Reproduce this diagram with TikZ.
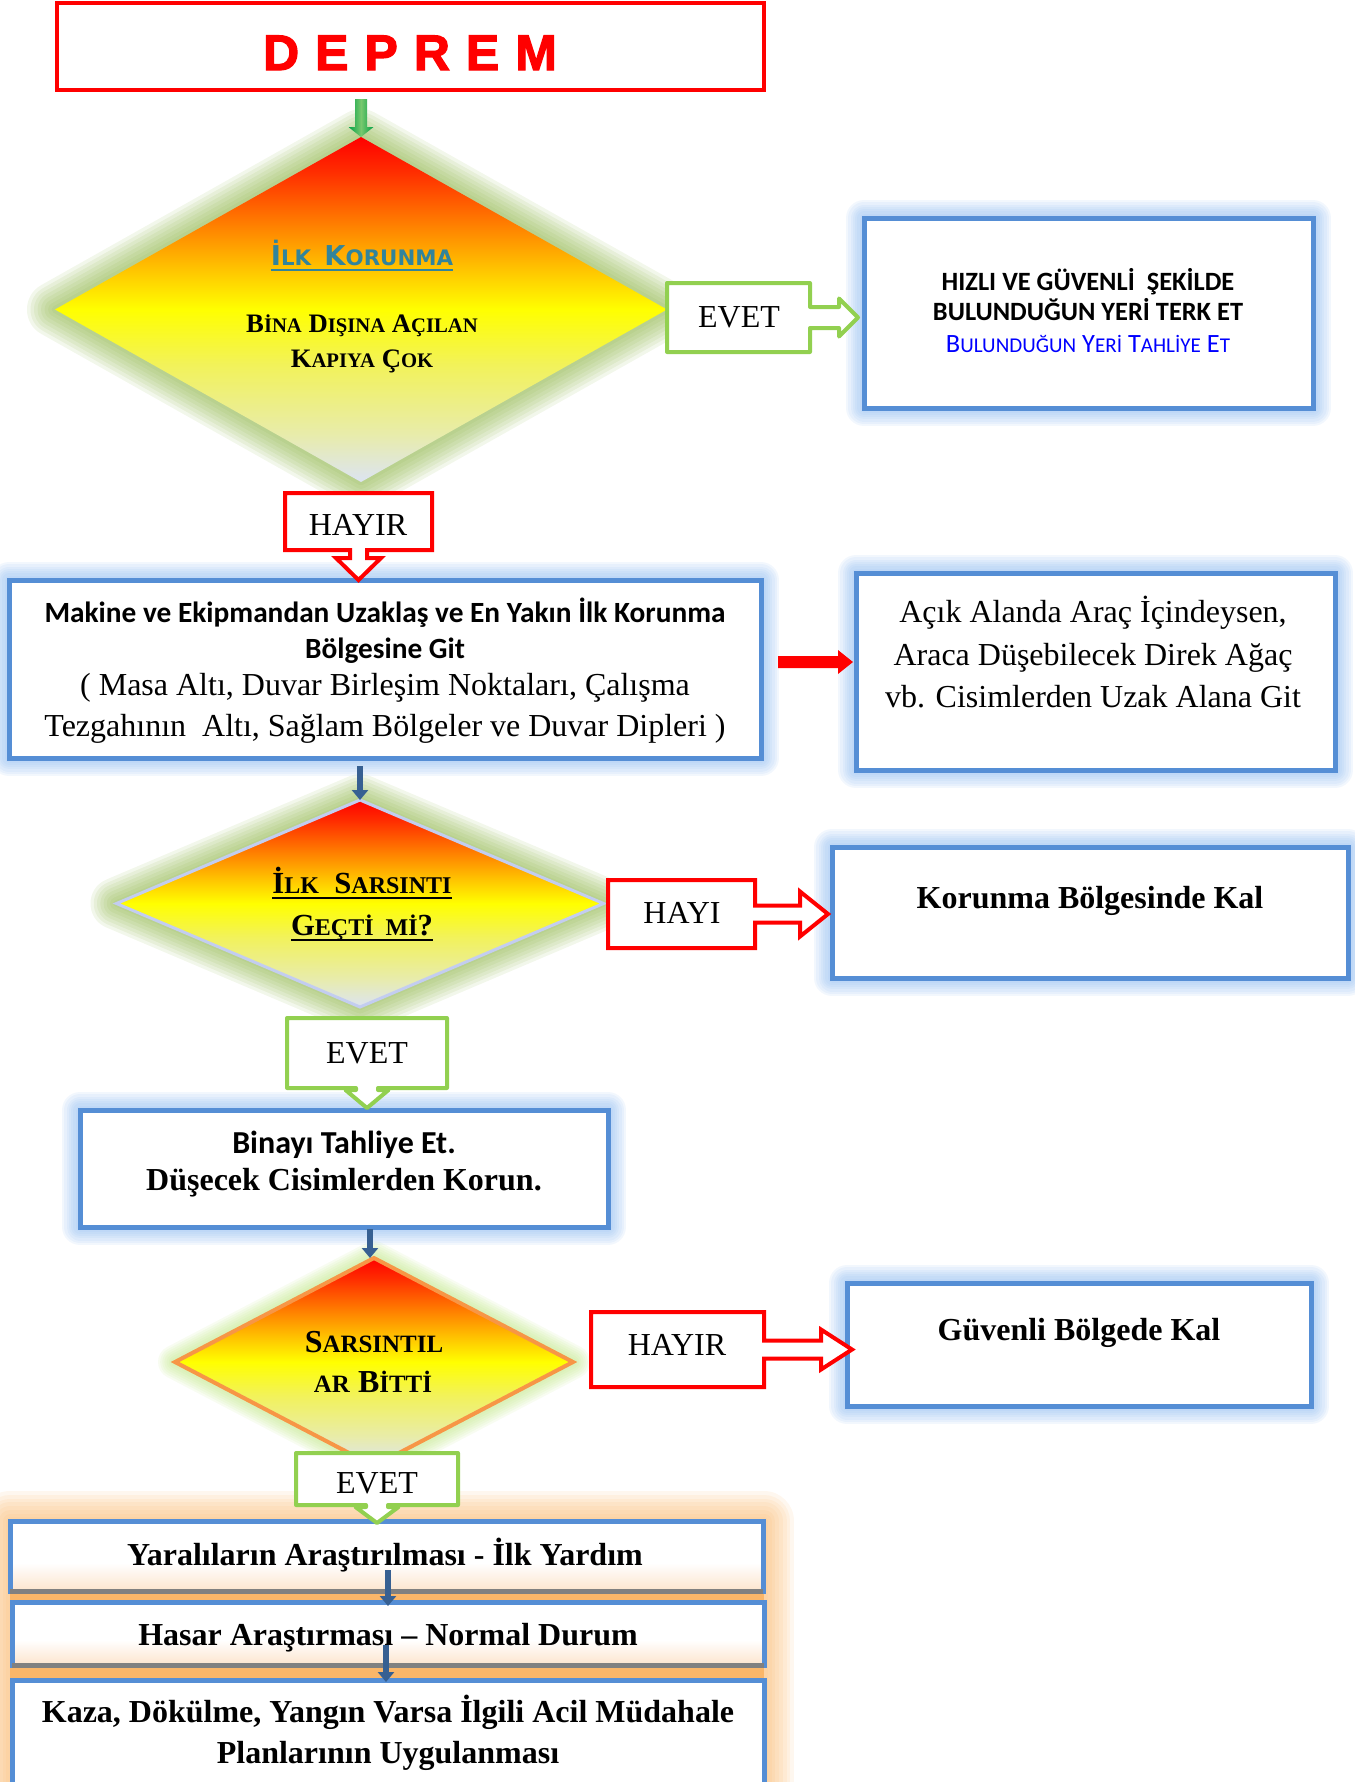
\documentclass[tikz,border=0pt]{standalone}
\usepackage{fontspec}
\setmainfont{Liberation Serif}
\newfontfamily\carl{Carlito}
\newfontfamily\djb{DejaVu Sans}
\newfontfamily\arl{Liberation Sans}[BoldFeatures={FakeBold=2.5}]
\usetikzlibrary{calc,fit,arrows.meta,shapes.geometric}

\definecolor{redb}{RGB}{255,0,0}
\definecolor{greenb}{RGB}{146,208,80}
\definecolor{blueb}{RGB}{85,142,213}
\definecolor{blueglow}{RGB}{140,185,240}
\definecolor{darkarrow}{RGB}{55,96,146}
\definecolor{leafglow}{RGB}{140,180,70}
\definecolor{limeglow}{RGB}{190,230,130}
\definecolor{peach}{RGB}{250,182,105}
\definecolor{boxpeach}{RGB}{252,228,205}
\definecolor{tealt}{RGB}{49,132,155}
\definecolor{linkblue}{RGB}{0,0,255}
\definecolor{diatwo}{RGB}{195,205,240}
\definecolor{diathree}{RGB}{247,150,70}
\definecolor{garrowA}{RGB}{0,160,70}
\definecolor{garrowB}{RGB}{120,200,110}
\definecolor{sPale}{RGB}{220,228,242}
\definecolor{sPaleY}{RGB}{232,236,170}
\definecolor{sMidY}{RGB}{242,242,90}
\definecolor{sYel}{RGB}{255,255,0}
\definecolor{sGold}{RGB}{255,205,0}
\definecolor{sOr}{RGB}{255,120,0}
\definecolor{sRO}{RGB}{255,45,0}
\definecolor{sRed}{RGB}{255,0,0}

% red at the top, yellow in the middle, pale blue-grey at the bottom
\pgfdeclareverticalshading{quake}{100bp}{color(0bp)=(sPale); color(25bp)=(sPale);
  color(32bp)=(sPaleY); color(42bp)=(sMidY); color(50bp)=(sYel); color(55bp)=(sGold);
  color(63bp)=(sOr); color(70bp)=(sRO); color(75bp)=(sRed); color(100bp)=(sRed)}
% white box with a warm tint along its lower edge
\pgfdeclareverticalshading{cream}{100bp}{color(0bp)=(boxpeach); color(25bp)=(boxpeach);
  color(45bp)=(white); color(100bp)=(white)}

\pgfdeclarelayer{glow}
\pgfsetlayers{glow,main}

% soft halo: stacked translucent strokes
\newcommand\halo[3]{\foreach \k in {1,...,8}{\draw[#1, opacity=0.11, line width=#2*0.75pt*\k/8, line join=round] #3;}}
% fake small caps
\newcommand\smc[2]{{\fontsize{#1}{#1}\selectfont #2}}

\tikzset{
  lbl/.style={anchor=base, inner sep=0pt, outer sep=0pt},
  serif/.style={lbl, font=\fontsize{24pt}{28pt}\selectfont},
  serifB/.style={lbl, font=\fontsize{24pt}{28pt}\selectfont\bfseries},
  sansB/.style={lbl, font=\carl\bfseries\fontsize{22pt}{26pt}\selectfont},
  bluebox/.style={draw=blueb, line width=3.75pt, fill=white, inner sep=0pt, outer sep=0pt},
  redbox/.style={draw=redb, line width=3pt, fill=white, inner sep=0pt, outer sep=0pt},
  cbox/.style={inner sep=0pt, outer sep=0pt},
  callG/.style={draw=greenb, line width=3pt, fill=white, line join=round},
  callR/.style={draw=redb, line width=3pt, fill=white, line join=miter},
  darrow/.style={draw=darkarrow, line width=4.5pt, -{Triangle[width=12pt,length=7.5pt]}},
  quakedia/.style={diamond, shade, shading=quake, inner sep=0pt, outer sep=0pt},
}

\begin{document}
\begin{tikzpicture}[x=0.75pt,y=-0.75pt]
\useasboundingbox (0,0) rectangle (1355,1782);

% ---------- boxes and decisions ----------
\node[redbox, fit={(57,3) (764,90)}] (dep) {};
\node[lbl, text=redb, font=\arl\bfseries\fontsize{37.5pt}{40pt}\selectfont] (deplbl) at (410,70)
  {D\hspace{12pt}E\hspace{12pt}P\hspace{12pt}R\hspace{12pt}E\hspace{12pt}M};

\node[quakedia, minimum width=459pt, minimum height=258.75pt] (d1) at (361,309.5) {};
\node[bluebox, fit={(864,218) (1313,408)}] (r1) {};
\node[bluebox, fit={(9,580) (761,758)}] (b2) {};
\node[bluebox, fit={(856,573) (1335,770)}] (b3) {};
\node[quakedia, draw=diatwo, line width=2.25pt, minimum width=365.25pt, minimum height=155.25pt] (d2) at (360,903.5) {};
\node[bluebox, fit={(832,847) (1348,978)}] (b4) {};
\node[bluebox, fit={(80,1110) (608,1227)}] (b5) {};
\node[quakedia, draw=diathree, line width=3pt, minimum width=298.5pt, minimum height=156pt] (d3) at (374,1362) {};
\node[bluebox, fit={(847,1283) (1311,1406)}] (b6) {};

% orange panel behind the closing steps
\begin{pgfonlayer}{glow}
  \coordinate (pnw) at (10,1521);
  \coordinate (pse) at (764,1800);
  \halo{peach}{60}{(pnw) rectangle (pse)}
  \fill[peach] (pnw) rectangle (pse);
\end{pgfonlayer}
\node[bluebox, shade, shading=cream, fit={(10,1521) (763,1591)}] (b7) {};
\draw[gray, line width=3.75pt] (b7.south west) -- (b7.south east);
\node[bluebox, shade, shading=cream, fit={(12,1602) (764,1665)}] (b8) {};
\draw[gray, line width=3.75pt] (b8.south west) -- (b8.south east);
\node[bluebox, fit={(12,1680) (764,1800)}] (b9) {};

% ---------- halos ----------
\begin{pgfonlayer}{glow}
  \halo{leafglow}{56}{(d1.north) -- (d1.east) -- (d1.south) -- (d1.west) -- cycle}
  \halo{leafglow}{52}{(d2.north) -- (d2.east) -- (d2.south) -- (d2.west) -- cycle}
  \halo{limeglow}{34}{(d3.north) -- (d3.east) -- (d3.south) -- (d3.west) -- cycle}
  \foreach \b in {r1,b2,b3,b4,b5,b6}{\halo{blueglow}{36}{(\b.north west) rectangle (\b.south east)}}
\end{pgfonlayer}

% ---------- texts ----------
\node[lbl, text=tealt, font=\djb\bfseries\fontsize{20.5pt}{22pt}\selectfont] (d1a) at (362,265)
  {İ\smc{16pt}{LK}\hspace{10pt}K\smc{16pt}{ORUNMA}};
\draw[tealt, line width=2pt] ($(d1a.base west)+(0,5)$) -- ($(d1a.base east)+(0,5)$);
\node[lbl, font=\fontsize{20pt}{20pt}\selectfont\bfseries] (d1b) at (362,332)
  {B\smc{15.5pt}{İNA} D\smc{15.5pt}{IŞINA} A\smc{15.5pt}{ÇILAN}};
\node[lbl, font=\fontsize{20pt}{20pt}\selectfont\bfseries] (d1c) at (362,367)
  {K\smc{15.5pt}{APIYA} Ç\smc{15.5pt}{OK}};

\node[lbl, font=\carl\bfseries\fontsize{19.8pt}{20pt}\selectfont] (r1a) at (1088,290) {HIZLI VE GÜVENLİ\ \ ŞEKİLDE};
\node[lbl, font=\carl\bfseries\fontsize{19.8pt}{20pt}\selectfont] (r1b) at (1088,320) {BULUNDUĞUN YERİ TERK ET};
\node[lbl, text=linkblue, font=\carl\fontsize{19.8pt}{20pt}\selectfont] (r1c) at (1088,352)
  {B\smc{15.8pt}{ULUNDUĞUN} Y\smc{15.8pt}{ERİ} T\smc{15.8pt}{AHLİYE} E\smc{15.8pt}{T}};

\node[sansB] (b2a) at (385,622) {Makine ve Ekipmandan Uzaklaş ve En Yakın İlk Korunma};
\node[sansB] (b2b) at (385,658) {Bölgesine Git};
\node[serif] (b2c) at (385,695) {( Masa Altı, Duvar Birleşim Noktaları, Çalışma};
\node[serif] (b2d) at (385,736) {Tezgahının\ \ Altı, Sağlam Bölgeler ve Duvar Dipleri )};

\node[serif] (b3a) at (1093,622) {Açık Alanda Araç İçindeysen,};
\node[serif] (b3b) at (1093,665) {Araca Düşebilecek Direk Ağaç};
\node[serif] (b3c) at (1093,707) {vb. Cisimlerden Uzak Alana Git};

\node[lbl, font=\fontsize{23pt}{24pt}\selectfont\bfseries] (d2a) at (362,893)
  {İ\smc{18pt}{LK}\ \ S\smc{18pt}{ARSINTI}};
\draw[black, line width=2.2pt] ($(d2a.base west)+(0,5)$) -- ($(d2a.base east)+(0,5)$);
\node[lbl, font=\fontsize{23pt}{24pt}\selectfont\bfseries] (d2b) at (362,935)
  {G\smc{18pt}{EÇTİ\ \ Mİ}?};
\draw[black, line width=2.2pt] ($(d2b.base west)+(0,5)$) -- ($(d2b.base east)+(0,5)$);

\node[serifB] (b4a) at (1090,908) {Korunma Bölgesinde Kal};
\node[lbl, font=\carl\bfseries\fontsize{24pt}{26pt}\selectfont] (b5a) at (344,1153) {Binayı Tahliye Et.};
\node[serifB] (b5b) at (344,1190) {Düşecek Cisimlerden Korun.};

\node[lbl, font=\fontsize{24pt}{24pt}\selectfont\bfseries] (d3a) at (374,1352)
  {S\smc{18.7pt}{ARSINTIL}};
\node[lbl, font=\fontsize{24pt}{24pt}\selectfont\bfseries] (d3b) at (373,1392)
  {\smc{18.7pt}{AR} B\smc{18.7pt}{İTTİ}};
\node[serifB] (b6a) at (1079,1340) {Güvenli Bölgede Kal};

\node[serifB] (b7a) at (385,1565) {Yaralıların Araştırılması - İlk Yardım};
\node[serifB] (b8a) at (388,1645) {Hasar Araştırması – Normal Durum};
\node[serifB] (b9a) at (388,1722) {Kaza, Dökülme, Yangın Varsa İlgili Acil Müdahale};
\node[serifB] (b9b) at (388,1763) {Planlarının Uygulanması};

% ---------- connectors ----------
\coordinate (ga) at ($(d1.north |- dep.south)+(0,9)$);
\shade[left color=garrowA, right color=garrowA, middle color=garrowB]
  ($(ga)+(-6,0)$) -- ($(ga)+(6,0)$) -- ($(d1.north)+(6,-10)$) -- ($(d1.north)+(12.5,-10)$) -- (d1.north)
  -- ($(d1.north)+(-12.5,-10)$) -- ($(d1.north)+(-6,-10)$) -- cycle;

\coordinate (ra) at ($(b2.east)+(17,-7)$);
\coordinate (rb) at ($(b3.west |- ra)+(-3,0)$);
\fill[redb] ($(ra)+(0,-6)$) -- ($(rb)+(-15,-6)$) -- ($(rb)+(-15,-12)$) -- (rb) -- ($(rb)+(-15,12)$)
  -- ($(rb)+(-15,6)$) -- ($(ra)+(0,6)$) -- cycle;

\draw[darrow] ($(d2.north |- b2.south)+(0,8)$) -- (d2.north);
\draw[darrow] ($(d3.north |- b5.south)+(-4,2)$) -- ($(d3.north)+(-4,0)$);
\draw[darrow] ($(b8.north |- b7.center)+(0,14)$) -- ($(b8.north)+(0,4)$);
\draw[darrow] ($(b9.north |- b8.center)+(-2,11)$) -- ($(b9.north)+(-2,2)$);

% EVET -> leave the building
\node[cbox, fit={(667,283) (810,352)}] (e1) {};
\coordinate (e1tip) at ($(r1.west |- e1.east)+(-6,0)$);
\draw[callG] (e1.south west) -- (e1.north west) -- (e1.north east) -- ($(e1.east)+(0,-10.5)$)
  -- ($(e1tip)+(-19,-10.5)$) -- ($(e1tip)+(-19,-19)$) -- (e1tip) -- ($(e1tip)+(-19,19)$)
  -- ($(e1tip)+(-19,10.5)$) -- ($(e1.east)+(0,10.5)$) -- (e1.south east) -- cycle;
\node[serif] (e1l) at (739,327) {EVET};

% HAYIR -> shelter zone
\node[cbox, fit={(285,493) (432,550)}] (h1) {};
\coordinate (h1tip) at (h1.south |- b2.north);
\draw[callR] (h1.north west) -- (h1.north east) -- (h1.south east) -- ($(h1.south)+(8.5,0)$)
  -- ($(h1tip)+(8.5,-22)$) -- ($(h1tip)+(22.5,-22)$) -- (h1tip) -- ($(h1tip)+(-22.5,-22)$)
  -- ($(h1tip)+(-8.5,-22)$) -- ($(h1.south)+(-8.5,0)$) -- (h1.south west) -- cycle;
\node[serif] (h1l) at (358,535) {HAYIR};

% HAYI -> stay
\node[cbox, fit={(608,880) (755,948)}] (h2) {};
\coordinate (h2tip) at ($(b4.west |- h2.east)+(-4,0)$);
\draw[callR] (h2.north west) -- (h2.north east) -- ($(h2.east)+(0,-8.5)$)
  -- ($(h2tip)+(-28,-8.5)$) -- ($(h2tip)+(-28,-22.5)$) -- (h2tip) -- ($(h2tip)+(-28,22.5)$)
  -- ($(h2tip)+(-28,8.5)$) -- ($(h2.east)+(0,8.5)$) -- (h2.south east) -- (h2.south west) -- cycle;
\node[serif] (h2l) at (682,923) {HAYI};

% EVET -> evacuate
\node[cbox, fit={(287,1018) (447,1088)}] (e2) {};
\coordinate (e2tip) at ($(e2.south |- b5.north)+(0,-2)$);
\draw[callG] (e2.south west) -- (e2.north west) -- (e2.north east) -- (e2.south east)
  -- ($(e2.south)+(11,0)$) -- ($(e2tip)+(11,-18)$) -- ($(e2tip)+(21.5,-18)$) -- (e2tip)
  -- ($(e2tip)+(-21.5,-18)$) -- ($(e2tip)+(-11,-18)$) -- ($(e2.south)+(-11,0)$) -- cycle;
\node[serif] (e2l) at (367,1063) {EVET};

% HAYIR -> safe zone
\node[cbox, fit={(591,1312) (764,1387)}] (h3) {};
\coordinate (h3tip) at ($(b6.west |- h3.east)+(5,0)$);
\draw[callR] (h3.north west) -- (h3.north east) -- ($(h3.east)+(0,-9)$)
  -- ($(h3tip)+(-31,-9)$) -- ($(h3tip)+(-31,-20)$) -- (h3tip) -- ($(h3tip)+(-31,20)$)
  -- ($(h3tip)+(-31,9)$) -- ($(h3.east)+(0,9)$) -- (h3.south east) -- (h3.south west) -- cycle;
\node[serif] (h3l) at (677,1355) {HAYIR};

% EVET -> aftermath
\node[cbox, fit={(296,1453) (458,1505)}] (e3) {};
\coordinate (e3tip) at ($(e3.south |- b7.north)+(0,2)$);
\draw[callG] (e3.south west) -- (e3.north west) -- (e3.north east) -- (e3.south east)
  -- ($(e3.south)+(11,0)$) -- ($(e3tip)+(11,-16)$) -- ($(e3tip)+(21.5,-16)$) -- (e3tip)
  -- ($(e3tip)+(-21.5,-16)$) -- ($(e3tip)+(-11,-16)$) -- ($(e3.south)+(-11,0)$) -- cycle;
\node[serif] (e3l) at (377,1493) {EVET};

\end{tikzpicture}
\end{document}
